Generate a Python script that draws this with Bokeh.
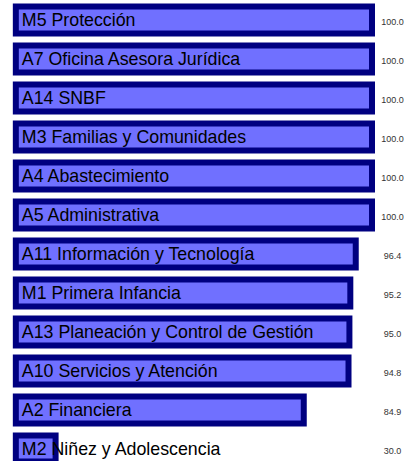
from bokeh.plotting import figure
from bokeh.models import ColumnDataSource, Range1d
from bokeh.core.properties import value
from bokeh.embed import file_html
from bokeh.resources import INLINE

categories = [
    "M5 Protección",
    "A7 Oficina Asesora Jurídica",
    "A14 SNBF",
    "M3 Familias y Comunidades",
    "A4 Abastecimiento",
    "A5 Administrativa",
    "A11 Información y Tecnología",
    "M1 Primera Infancia",
    "A13 Planeación y Control de Gestión",
    "A10 Servicios y Atención",
    "A2 Financiera",
    "M2 Niñez y Adolescencia",
]
values = [100.0, 100.0, 100.0, 100.0, 100.0, 100.0, 96.4, 95.2, 95.0, 94.8, 84.9, 30.0]
value_labels = ["%.1f" % v for v in values]

positions = list(range(len(categories)))
baseline = 21.2
label_x = [baseline] * len(categories)
value_x = [100.0] * len(categories)

src = ColumnDataSource(dict(
    y=positions, cat=categories, val=values, vlab=value_labels,
    lx=label_x, vx=value_x,
))

W, H = 407, 461
p = figure(width=W, height=H, output_backend="svg", toolbar_location=None,
           x_range=Range1d(17.81, 107.85), y_range=Range1d(11.32, -0.5),
           min_border=0, min_border_left=0, min_border_right=0,
           min_border_top=0, min_border_bottom=0)
p.axis.visible = False
p.grid.visible = False
p.outline_line_color = None
p.background_fill_color = "white"
p.border_fill_color = "white"

p.hbar(y="y", left=baseline, right="val", height=0.692, source=src,
       fill_color="#7070FF", line_color="#000080", line_width=6,
       line_join="miter")

p.text(x="lx", y="y", text="cat", source=src, x_offset=6, y_offset=-0.5,
       text_font=value("Liberation Sans"), text_font_size="17.8px",
       text_color="#000000", text_baseline="alphabetic", text_align="left")

p.text(x="vx", y="y", text="vlab", source=src, x_offset=20.5, y_offset=2,
       text_font=value("Liberation Sans"), text_font_size="9px",
       text_color="#333333", text_baseline="alphabetic", text_align="center")

open("out.html", "w").write(file_html(p, INLINE))
